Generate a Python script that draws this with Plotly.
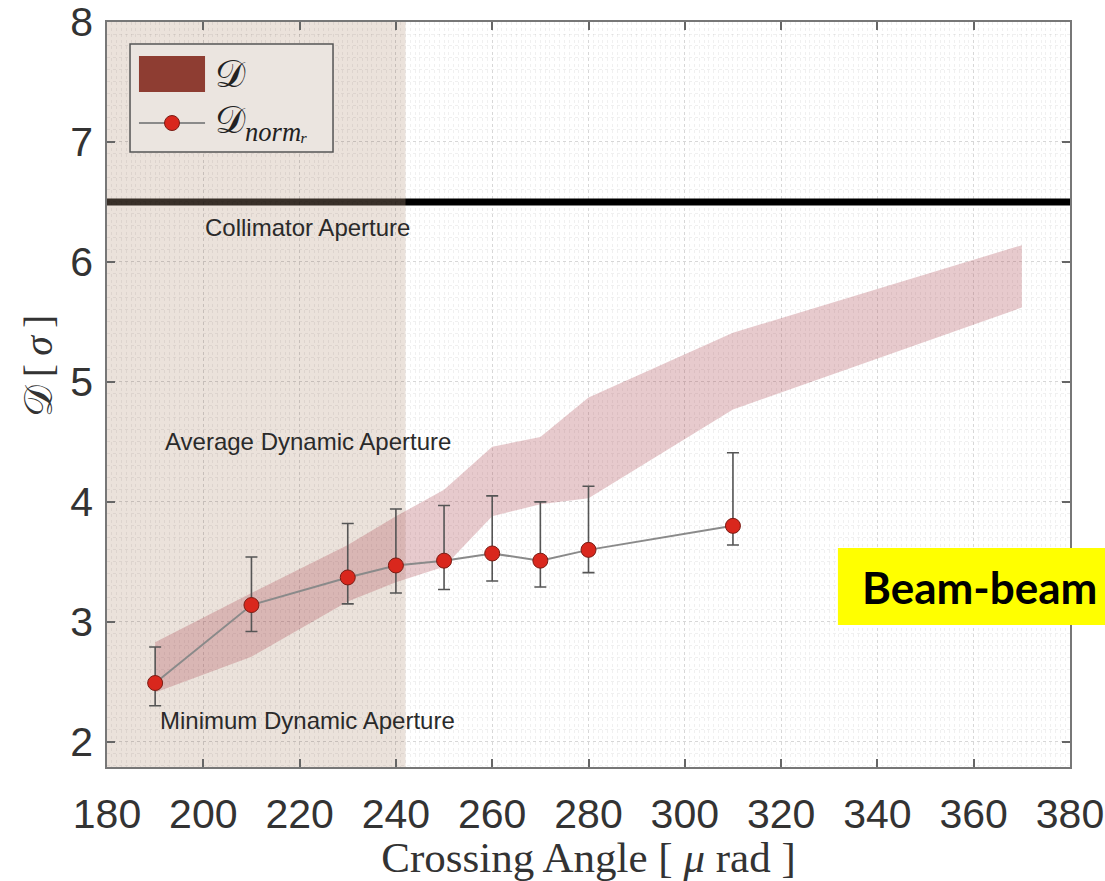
import plotly.graph_objects as go

# Dynamic-aperture band (min / average envelope) vs crossing angle
band_x = [190, 210, 230, 240, 250, 260, 270, 280, 310, 370]
band_upper = [2.83, 3.24, 3.64, 3.88, 4.10, 4.46, 4.54, 4.87, 5.41, 6.14]
band_lower = [2.41, 2.71, 3.17, 3.33, 3.46, 3.88, 3.98, 4.03, 4.77, 5.62]

# Normalised dynamic aperture with spread
pts_x = [190, 210, 230, 240, 250, 260, 270, 280, 310]
pts_y = [2.49, 3.14, 3.37, 3.47, 3.51, 3.57, 3.51, 3.60, 3.80]
pts_hi = [2.79, 3.54, 3.82, 3.94, 3.97, 4.05, 4.00, 4.13, 4.41]
pts_lo = [2.30, 2.92, 3.15, 3.24, 3.27, 3.34, 3.29, 3.41, 3.64]

collimator_aperture = 6.5
excluded_range = [180, 242]

x_range = [180, 380]
y_range = [1.79, 8]
x_ticks = [180, 200, 220, 240, 260, 280, 300, 320, 340, 360, 380]
y_ticks = [2, 3, 4, 5, 6, 7, 8]

SERIF = "Liberation Serif, DejaVu Serif, serif"
SANS = "Liberation Sans, Arial, sans-serif"

BAND_FILL = "rgba(175,80,90,0.30)"
BAND_KEY = "#8e3d32"
MARKER_FILL = "#d9271d"
MARKER_EDGE = "#7a1c14"
LINE_GREY = "#8a8a8a"

fig = go.Figure()

# band polygon: upper edge forward, lower edge back
fig.add_trace(go.Scatter(
    x=band_x + band_x[::-1],
    y=band_upper + band_lower[::-1],
    fill="toself",
    mode="none",
    fillcolor=BAND_FILL,
    hoverinfo="skip",
    name="𝒟",
    showlegend=False,
))

err_plus = [h - y for h, y in zip(pts_hi, pts_y)]
err_minus = [y - l for y, l in zip(pts_y, pts_lo)]

fig.add_trace(go.Scatter(
    x=pts_x, y=pts_y,
    mode="lines+markers",
    line=dict(color=LINE_GREY, width=2),
    marker=dict(size=15, color=MARKER_FILL, line=dict(color=MARKER_EDGE, width=1)),
    error_y=dict(type="data", symmetric=False, array=err_plus, arrayminus=err_minus,
                 color="#555555", thickness=1.6, width=6),
    name="𝒟 norm r",
    showlegend=False,
))

# collimator aperture line
fig.add_hline(y=collimator_aperture, line=dict(color="black", width=7), layer="below")
# excluded crossing-angle region
fig.add_vrect(x0=excluded_range[0], x1=excluded_range[1],
              fillcolor="rgba(190,160,135,0.30)", line_width=0, layer="below")

label_font = dict(family=SANS, size=24, color="#2a2a2a")
fig.add_annotation(x=221.7, y=6.29, text="Collimator Aperture", showarrow=False, font=label_font)
fig.add_annotation(x=221.7, y=4.50, text="Average Dynamic Aperture", showarrow=False, font=label_font)
fig.add_annotation(x=221.7, y=2.18, text="Minimum Dynamic Aperture", showarrow=False, font=label_font)

# ---- legend box (paper coordinates) ----
fig.add_shape(type="rect", xref="paper", yref="paper",
              x0=0.0239, x1=0.2347, y0=0.8255, y1=0.9705,
              fillcolor="#ebe5e0", line=dict(color="#555555", width=1.5), layer="above")
fig.add_shape(type="rect", xref="paper", yref="paper",
              x0=0.0332, x1=0.1018, y0=0.9060, y1=0.9544,
              fillcolor=BAND_KEY, line_width=0, layer="above")
fig.add_shape(type="line", xref="paper", yref="paper",
              x0=0.0332, x1=0.1018, y0=0.8644, y1=0.8644,
              line=dict(color=LINE_GREY, width=2), layer="above")
fig.add_shape(type="circle", xref="paper", yref="paper",
              xsizemode="pixel", ysizemode="pixel",
              xanchor=0.0675, yanchor=0.8644, x0=-7.5, x1=7.5, y0=-7.5, y1=7.5,
              fillcolor=MARKER_FILL, line=dict(color=MARKER_EDGE, width=1), layer="above")
key_font = dict(family=SERIF, size=38, color="#222222")
fig.add_annotation(xref="paper", yref="paper", x=0.1101, y=0.930,
                   xanchor="left", yanchor="middle", showarrow=False,
                   text="𝒟", font=key_font)
fig.add_annotation(xref="paper", yref="paper", x=0.1101, y=0.8644,
                   xanchor="left", yanchor="middle", showarrow=False,
                   text="𝒟<sub><i>normᵣ</i></sub>", font=key_font)

# y-axis label, placed by hand
fig.add_annotation(xref="paper", yref="paper", x=-0.0717, y=0.538,
                   xanchor="center", yanchor="middle", textangle=-90, showarrow=False,
                   text="𝒟\u2009[\u2009<i>σ</i>\u2009]",
                   font=dict(family=SERIF, size=40, color="#333333"))

# highlighted tag
fig.add_shape(type="rect", xref="paper", yref="paper",
              x0=0.759, x1=1.04, y0=0.1906, y1=0.294,
              fillcolor="#ffff00", line_width=0, layer="above")
fig.add_annotation(xref="paper", yref="paper", x=0.906, y=0.2416,
                   xanchor="center", yanchor="middle",
                   text="<b>Beam-beam</b>", showarrow=False,
                   font=dict(family="Lato, Open Sans, sans-serif", size=44, color="black"))

axis_common = dict(
    showline=True, linecolor="#777777", linewidth=1.5, mirror="allticks",
    ticks="inside", ticklen=8, tickcolor="#666666", tickwidth=1.5,
    showgrid=True, gridcolor="rgba(0,0,0,0.10)", gridwidth=1, griddash="dot",
    zeroline=False, automargin=False, ticklabeloverflow="allow",
    tickfont=dict(family=SANS, size=41, color="#333333"),
)

fig.update_xaxes(
    range=x_range, tickvals=x_ticks, ticklabelstandoff=10,
    minor=dict(dtick=1, showgrid=True, gridcolor="rgba(0,0,0,0.06)", griddash="dot", gridwidth=1),
    title=dict(text="Crossing Angle [ <i>μ</i> rad ]", font=dict(family=SERIF, size=43, color="#333333"), standoff=9),
    **axis_common,
)
fig.update_yaxes(
    range=y_range, tickvals=y_ticks, ticklabelstandoff=4,
    minor=dict(dtick=0.1, showgrid=True, gridcolor="rgba(0,0,0,0.06)", griddash="dot", gridwidth=1),
    **axis_common,
)

fig.update_layout(
    width=1105, height=881,
    margin=dict(l=107, r=35, t=22, b=114),
    paper_bgcolor="white", plot_bgcolor="white",
    showlegend=False,
)

fig.write_html("out.html")
